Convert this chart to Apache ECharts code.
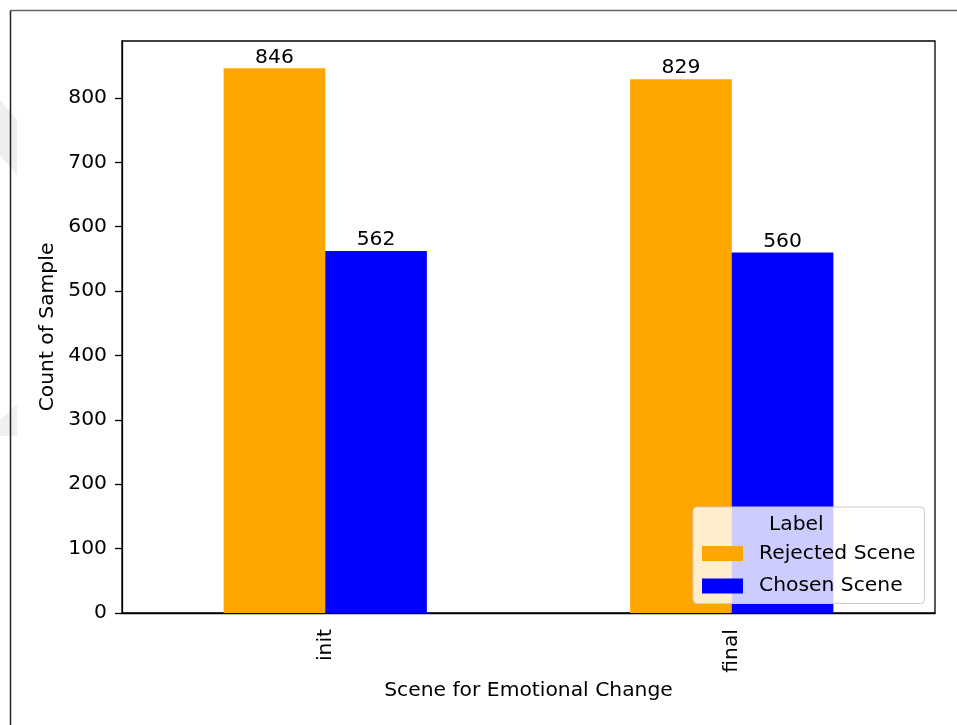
<!DOCTYPE html>
<html>
<head>
<meta charset="utf-8">
<script src="https://cdn.jsdelivr.net/npm/echarts@6/dist/echarts.min.js"></script>
<style>
  html, body { margin: 0; padding: 0; background: #fff; }
  #chart { width: 957px; height: 725px; }
</style>
</head>
<body>
<div id="chart"></div>
<script>
// Scenes on the x axis and counts per label
const scenes = ['init', 'final'];
const rejectedScene = [846, 829];
const chosenScene = [562, 560];
const yTicks = [0, 100, 200, 300, 400, 500, 600, 700, 800];
const yMax = 888.3;

const FONT = 'DejaVu Sans';
const FS = 20.3;

const chart = echarts.init(document.getElementById('chart'), null, { renderer: 'canvas' });

chart.setOption({
  backgroundColor: '#ffffff',
  animation: false,
  textStyle: { fontFamily: FONT, color: '#000' },
  grid: {
    left: 122, right: 22, top: 41, bottom: 112,
    show: true, borderColor: '#000', borderWidth: 1.3,
    backgroundColor: 'transparent'
  },
  xAxis: {
    type: 'category',
    data: scenes,
    name: 'Scene for Emotional Change',
    nameLocation: 'middle',
    nameGap: 66,
    nameTextStyle: { fontFamily: FONT, fontSize: FS, color: '#000' },
    axisLine: { lineStyle: { color: '#000', width: 1.3 } },
    axisTick: { alignWithLabel: true, length: 7, lineStyle: { color: '#000', width: 1.3 } },
    axisLabel: { rotate: 90, margin: 16, fontFamily: FONT, fontSize: FS, color: '#000' }
  },
  yAxis: {
    type: 'value',
    min: 0,
    max: yMax,
    interval: 100,
    name: 'Count of Sample',
    nameLocation: 'middle',
    nameRotate: 90,
    nameGap: 63,
    nameTextStyle: { fontFamily: FONT, fontSize: FS, color: '#000' },
    splitLine: { show: false },
    axisLine: { show: true, lineStyle: { color: '#000', width: 1.3 } },
    axisTick: { show: true, length: 7, customValues: yTicks, lineStyle: { color: '#000', width: 1.3 } },
    axisLabel: { margin: 15, customValues: yTicks, fontFamily: FONT, fontSize: FS, color: '#000' }
  },
  legend: {
    orient: 'vertical',
    left: 693,
    top: 507,
    padding: [36.5, 9, 7.5, 9],
    itemWidth: 41,
    itemHeight: 15,
    itemGap: 12.5,
    backgroundColor: 'rgba(255,255,255,0.8)',
    borderColor: '#cccccc',
    borderWidth: 1,
    borderRadius: 4,
    icon: 'rect',
    textStyle: { fontFamily: FONT, fontSize: FS, color: '#000', lineHeight: 20, padding: [0, 0, 0, 11] },
    data: ['Rejected Scene', 'Chosen Scene']
  },
  graphic: [
    // legend title
    {
      type: 'text', z: 100, left: 809 - 40, top: 515,
      style: { text: 'Label', x: 0, y: 0, width: 80, align: 'center', fontFamily: FONT, fontSize: FS, fill: '#000' }
    },
    // outer frame
    { type: 'line', z: 100, shape: { x1: 10.5, y1: 10.5, x2: 957, y2: 10.5 }, style: { stroke: '#666', lineWidth: 1.5 } },
    { type: 'line', z: 100, shape: { x1: 10.5, y1: 10.5, x2: 10.5, y2: 725 }, style: { stroke: '#222', lineWidth: 1.5 } },
    // faint shapes at the left edge
    { type: 'polygon', z: -1, shape: { points: [[0, 100], [17, 120], [17, 175], [0, 155]] }, style: { fill: '#eeeeee' } },
    { type: 'polygon', z: -1, shape: { points: [[0, 420], [17, 404], [17, 436], [0, 436]] }, style: { fill: '#f0f0f0' } }
  ],
  series: [
    {
      name: 'Rejected Scene',
      type: 'bar',
      data: rejectedScene,
      barWidth: '25%',
      barGap: '0%',
      itemStyle: { color: '#FFA500' },
      label: { show: true, position: 'top', distance: 1, fontFamily: FONT, fontSize: FS, color: '#000' }
    },
    {
      name: 'Chosen Scene',
      type: 'bar',
      data: chosenScene,
      barWidth: '25%',
      barGap: '0%',
      itemStyle: { color: '#0000FF' },
      label: { show: true, position: 'top', distance: 1, fontFamily: FONT, fontSize: FS, color: '#000' }
    }
  ]
});
</script>
</body>
</html>
